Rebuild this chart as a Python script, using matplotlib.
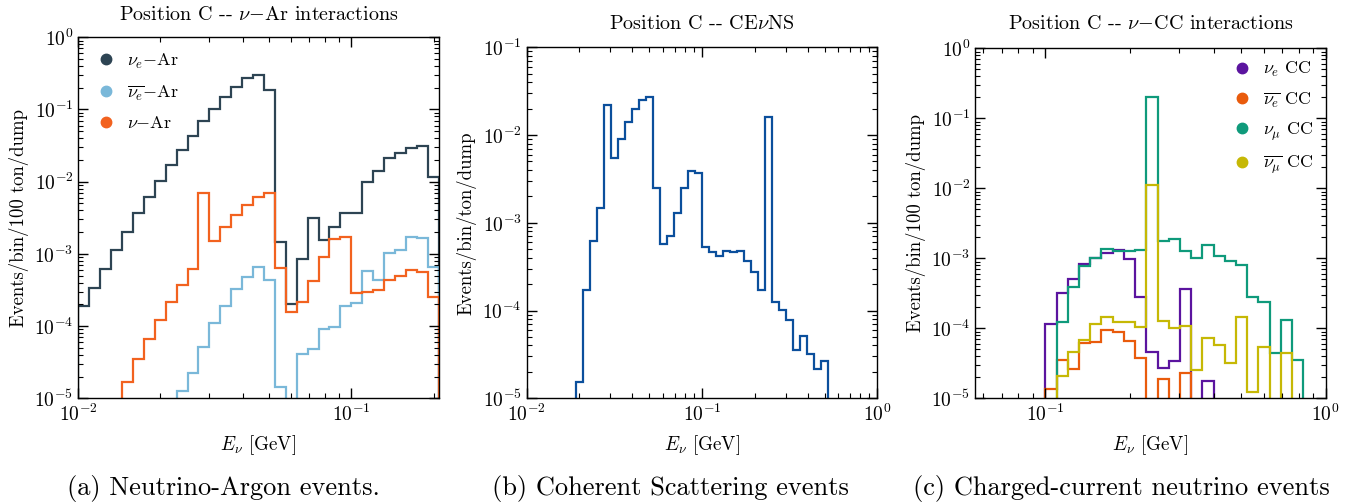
import numpy as np
import matplotlib
matplotlib.use("Agg")
import matplotlib.pyplot as plt
from matplotlib.lines import Line2D

plt.rcParams['font.family'] = ['cmr10', 'DejaVu Serif']
plt.rcParams['mathtext.fontset'] = 'cm'
plt.rcParams['axes.formatter.use_mathtext'] = True
plt.rcParams['axes.unicode_minus'] = False

# ---------------- data ----------------
BINS_PER_DECADE = 25

# Panel (a): bins start at 1e-2
a_first_exp = -2.0
a_nu_e_Ar = [1.92e-4, 3.34e-4, 6.25e-4, 1.13e-3, 2.01e-3, 3.65e-3, 6.08e-3, 1.03e-2, 1.72e-2, 2.75e-2,
             4.3e-2, 7.0e-2, 0.1006, 0.1476, 0.2074, 0.276, 0.304, 0.1866, 1.48e-3, 2.03e-4,
             8.6e-4, 3.18e-3, 1.56e-3, 2.39e-3, 3.65e-3, 3.73e-3, 1.0e-2, 1.39e-2, 2.13e-2, 2.5e-2,
             2.9e-2, 3.16e-2, 1.16e-2]
a_nubar_e_Ar = [0, 0, 0, 0, 0, 0, 0, 0, 0,
                1.28e-5, 2.27e-5, 5.2e-5, 1.12e-4, 1.9e-4, 3.27e-4, 4.84e-4, 6.67e-4, 4.35e-4, 1.45e-5,
                0, 4.11e-5, 4.82e-5, 9.2e-5, 9.8e-5, 1.9e-4, 2.11e-4, 5.86e-4, 4.35e-4, 1.04e-3,
                1.13e-3, 1.70e-3, 1.64e-3, 6.52e-4]
a_nu_Ar = [0, 0, 0, 0,
           1.7e-5, 3.47e-5, 6.6e-5, 1.22e-4, 2.18e-4, 3.71e-4, 6.12e-4,
           7.06e-3, 1.53e-3, 2.39e-3, 3.42e-3, 4.81e-3, 6.21e-3, 6.9e-3,
           6.45e-4, 1.57e-4, 2.14e-4, 4.26e-4, 9.17e-4, 1.61e-3, 1.72e-3,
           2.9e-4, 2.97e-4, 3.16e-4, 4.35e-4, 5.0e-4, 5.99e-4, 5.56e-4, 2.5e-4]
a_labels = [r'$\nu_e$$-$Ar', r'$\overline{\nu_e}$$-$Ar', r'$\nu$$-$Ar']
a_colors = ['#2d4453', '#7ab8d9', '#f2621f']

# Panel (b): CEvNS, bins start at 10^(-2+7/25)
b_first_exp = -2.0 + 7 / 25
b_cevns = [1.55e-5, 1.72e-4, 6.15e-4, 1.49e-3, 2.18e-2, 5.48e-3, 9.1e-3, 1.397e-2, 1.98e-2, 2.53e-2,
           2.74e-2, 2.49e-3, 5.69e-4, 7.14e-4, 1.28e-3, 2.52e-3, 3.9e-3, 3.66e-3, 5.3e-4, 4.69e-4,
           4.19e-4, 4.82e-4, 4.69e-4, 4.72e-4, 3.7e-4, 2.78e-4, 1.73e-4, 1.61e-2, 1.25e-4, 1.02e-4,
           7.8e-5, 3.56e-5, 5.13e-5, 3.17e-5, 2.14e-5, 2.66e-5]
b_color = '#0b4f9c'

# Panel (c): CC, bins start at 1e-1
c_first_exp = -1.0
c_nu_e = [1.14e-4, 3.16e-4, 5.0e-4, 8.2e-4, 1.0e-3, 1.2e-3, 1.32e-3, 9.7e-4, 2.83e-4, 4.64e-5,
          2.74e-5, 3.41e-5, 3.6e-4, 0, 1.79e-5, 0, 0, 0, 0, 0, 0, 0, 0, 0]
c_nubar_e = [1.36e-5, 3.53e-5, 2.6e-5, 6.1e-5, 6.45e-5, 9.46e-5, 8.96e-5, 6.59e-5, 3.73e-5, 0,
             1.87e-5, 0, 2.28e-5, 0, 0, 0, 0, 0, 0, 0, 0, 0, 0, 0]
c_nu_mu = [0, 1.25e-4, 3.94e-4, 7.77e-4, 1.0e-3, 1.36e-3, 1.29e-3, 1.29e-3, 1.32e-3, 0.204,
           1.77e-3, 1.91e-3, 1.27e-3, 1.01e-3, 1.55e-3, 1.08e-3, 9.27e-4, 8.03e-4, 2.83e-4, 2.41e-4,
           4.49e-5, 1.32e-4, 3.53e-5, 0]
c_nubar_mu = [0, 2.11e-5, 4.54e-5, 6.81e-5, 1.15e-4, 1.44e-4, 1.22e-4, 1.25e-4, 1.06e-4, 1.12e-2,
              1.27e-4, 1.02e-4, 1.08e-4, 2.54e-5, 7.2e-5, 5.78e-5, 3.23e-5, 1.47e-4, 1.22e-5, 5.35e-5,
              0, 4.4e-5, 0, 0]
c_labels = [r'$\nu_e$ CC', r'$\overline{\nu_e}$ CC', r'$\nu_\mu$ CC', r'$\overline{\nu_\mu}$ CC']
c_colors = ['#5b149f', '#e95b0c', '#0f9a7b', '#c6b805']

titles = [r'Position C -- $\nu$$-$Ar interactions', r'Position C -- CE$\nu$NS',
          r'Position C -- $\nu$$-$CC interactions']
ylabels = ['Events/bin/100 ton/dump', 'Events/bin/ton/dump', 'Events/bin/100 ton/dump']
xlabel = r'$E_\nu$ [GeV]'
captions = ['(a) Neutrino-Argon events.', '(b) Coherent Scattering events',
            '(c) Charged-current neutrino events']

FLOOR = 1e-12


def edges_for(first_exp, n):
    return 10 ** (first_exp + np.arange(n + 1) / BINS_PER_DECADE)


def draw(ax, vals, first_exp, color):
    v = np.asarray(vals, dtype=float)
    v = np.where(v > 0, v, FLOOR)
    ax.stairs(v, edges_for(first_exp, len(v)), baseline=FLOOR, color=color, lw=1.6)


def style(ax):
    ax.set_xscale('log')
    ax.set_yscale('log')
    ax.tick_params(which='both', direction='in', top=True, right=True, labelsize=14)
    ax.tick_params(which='major', length=7, width=1.0)
    ax.tick_params(which='minor', length=3.5, width=0.8)
    for s in ax.spines.values():
        s.set_linewidth(1.0)
    ax.yaxis.set_minor_locator(matplotlib.ticker.LogLocator(base=10, subs=np.arange(2, 10), numticks=20))
    ax.yaxis.set_minor_formatter(matplotlib.ticker.NullFormatter())
    ax.xaxis.set_minor_formatter(matplotlib.ticker.NullFormatter())


fig = plt.figure(figsize=(13.61, 5.04), dpi=100)
W, H = 1361, 504
def add_axes(l, r, t, b):
    return fig.add_axes([l / W, (H - b) / H, (r - l) / W, (b - t) / H])

axa = add_axes(78.3, 438.7, 37.3, 398.3)
axb = add_axes(526.7, 877.3, 47.3, 398.3)
axc = add_axes(975.3, 1325.7, 48.3, 398.3)

# (a)
for vals, col in zip([a_nu_e_Ar, a_nubar_e_Ar, a_nu_Ar], a_colors):
    draw(axa, vals, a_first_exp, col)
style(axa)
axa.set_xlim(1e-2, 10 ** (a_first_exp + len(a_nu_e_Ar) / BINS_PER_DECADE))
axa.set_ylim(1e-5, 1)

# (b)
draw(axb, b_cevns, b_first_exp, b_color)
style(axb)
axb.set_xlim(1e-2, 1)
axb.set_ylim(1e-5, 1e-1)

# (c)
for vals, col in zip([c_nu_e, c_nubar_e, c_nu_mu, c_nubar_mu], c_colors):
    draw(axc, vals, c_first_exp, col)
style(axc)
axc.set_xlim(10 ** -1.25, 1)
axc.set_ylim(1e-5, 1)

title_y = [15, 24, 24]
caption_x = [223, 670, 1121]
for ax, t, yl, cap, ty, capx in zip([axa, axb, axc], titles, ylabels, captions, title_y, caption_x):
    pos = ax.get_position()
    cx = (pos.x0 + pos.x1) / 2
    fig.text(cx, 1 - ty / H, t, ha='center', va='center', fontsize=14.5)
    ax.set_ylabel(yl, fontsize=13.5, labelpad=4)
    ax.set_xlabel(xlabel, fontsize=13.7, labelpad=6)
    fig.text(capx / W, 1 - 488 / H, cap, ha='center', va='center', fontsize=19)

ha = [Line2D([], [], ls='none', marker='o', ms=7.5, color=c) for c in a_colors]
axa.legend(ha, a_labels, loc='upper left', frameon=False, fontsize=13,
           labelspacing=0.7, handletextpad=0.4, borderaxespad=0.4, handlelength=1.5)
hc = [Line2D([], [], ls='none', marker='o', ms=7.5, color=c) for c in c_colors]
axc.legend(hc, c_labels, loc='upper right', frameon=False, fontsize=13,
           labelspacing=0.62, handletextpad=0.4, borderaxespad=0.25, handlelength=1.5)

fig.savefig('out.png', dpi=100)
